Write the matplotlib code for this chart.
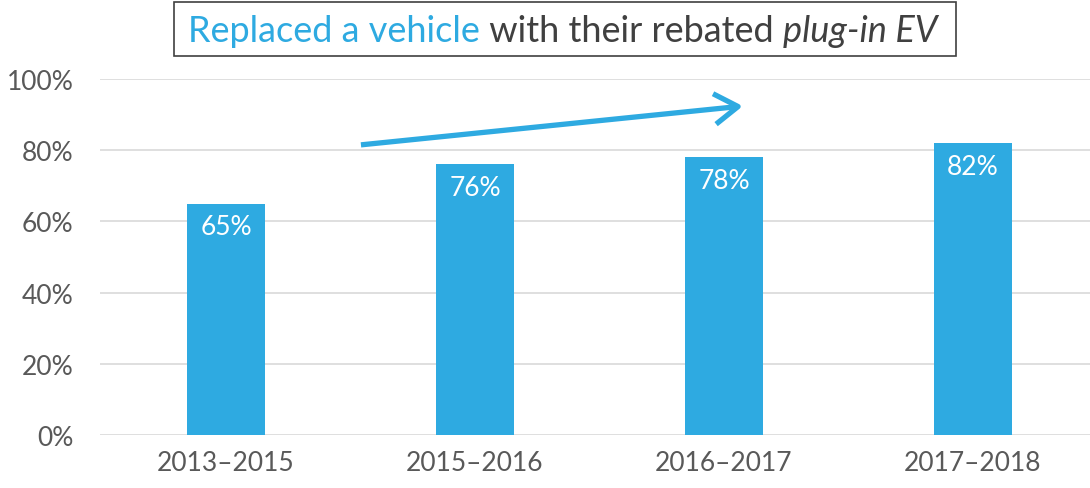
import matplotlib.pyplot as plt
from matplotlib.patches import Rectangle

plt.rcParams['font.family'] = ['Lato', 'DejaVu Sans']

periods = ['2013–2015', '2015–2016', '2016–2017', '2017–2018']
replaced_pct = [65, 76, 78, 82]

BLUE = '#2EAAE1'
GRAY = '#595959'
DARK = '#404040'

fig = plt.figure(figsize=(10.9, 4.89), dpi=100)
ax = fig.add_axes([100 / 1090, 1 - 436 / 489, 990 / 1090, 356 / 489])

x = range(len(periods))
bars = ax.bar(x, replaced_pct, width=0.315, color=BLUE, zorder=2)
for b, v in zip(bars, replaced_pct):
    ax.text(b.get_x() + b.get_width() / 2, v - 6.5, f'{v}%', ha='center', va='center',
            color='white', fontsize=19)

ax.set_ylim(0, 100)
ax.set_xlim(-0.506, 3.47)
ax.set_yticks(range(0, 101, 20))
ax.set_yticklabels([f'{t}%' for t in range(0, 101, 20)])
ax.set_xticks(list(x))
ax.set_xticklabels(periods)
ax.tick_params(axis='y', length=0, pad=19, labelsize=19, labelcolor=GRAY)
ax.tick_params(axis='x', length=0, pad=11, labelsize=19, labelcolor=GRAY)
ax.grid(axis='y', color='#D9D9D9', lw=1.2, zorder=0)
for s in ax.spines.values():
    s.set_visible(False)

# trend arrow
ax.annotate('', xy=(2.076, 92.4), xytext=(0.542, 81.5),
            arrowprops=dict(arrowstyle='->,head_length=0.85,head_width=0.55',
                            lw=3.8, color=BLUE, mutation_scale=20,
                            shrinkA=0, shrinkB=0, capstyle='butt'))

# title in a box, mixed colours
t1 = fig.text(188 / 1090, 1 - 42 / 489, 'Replaced a vehicle', color=BLUE, fontsize=26,
              va='baseline', ha='left')
t2 = ax.annotate(' with their rebated ', xy=(1, 0), xycoords=t1, va='bottom', ha='left',
                 color=DARK, fontsize=26, annotation_clip=False)
t3 = ax.annotate('plug-in EV', xy=(1, 0), xycoords=t2, va='bottom', ha='left',
                 color=DARK, fontsize=26, style='italic', annotation_clip=False)
fig.patches.append(Rectangle((174 / 1090, 1 - 57 / 489), 782 / 1090, 54 / 489,
                             transform=fig.transFigure, fill=False, ec=DARK, lw=1.2))

fig.savefig('out.png', dpi=100)
